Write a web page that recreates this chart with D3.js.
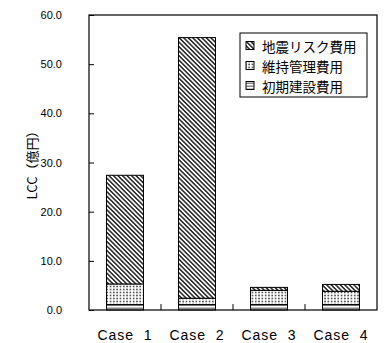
<!DOCTYPE html>
<html>
<head>
<meta charset="utf-8">
<script src="https://cdn.jsdelivr.net/npm/d3@7"></script>
<style>
  body { margin: 0; background: #fff; }
  svg { display: block; }
</style>
</head>
<body>
<div id="chart-area"></div>
<script>
// data (億円)
var cases = ["Case 1", "Case 2", "Case 3", "Case 4"];
var caseLabels = ["Case  1", "Case  2", "Case  3", "Case  4"];
var initialCost = [1.1, 1.1, 1.1, 1.1];     // 初期建設費用
var maintenanceCost = [4.2, 1.3, 2.9, 2.7]; // 維持管理費用
var seismicRisk = [22.1, 53.0, 0.6, 1.4];   // 地震リスク費用
var seriesNames = ["初期建設費用", "維持管理費用", "地震リスク費用"];
var yTicks = [0, 10, 20, 30, 40, 50, 60];

var width = 387, height = 343;
var plot = { left: 89, right: 377, top: 15, bottom: 310 };

var svg = d3.select("#chart-area")
    .append("svg")
    .attr("width", width)
    .attr("height", height);

// patterns
var defs = svg.append("defs");

var hatch = defs.append("pattern")
    .attr("id", "pat-seismic")
    .attr("patternUnits", "userSpaceOnUse")
    .attr("width", 3.2).attr("height", 3.2)
    .attr("patternTransform", "rotate(-45)");
hatch.append("rect").attr("width", 3.2).attr("height", 3.2).attr("fill", "#fff");
hatch.append("line")
    .attr("x1", 0.8).attr("y1", 0).attr("x2", 0.8).attr("y2", 3.2)
    .attr("stroke", "#222").attr("stroke-width", 1.5);

var dots = defs.append("pattern")
    .attr("id", "pat-maint")
    .attr("patternUnits", "userSpaceOnUse")
    .attr("width", 3.3).attr("height", 3.0);
dots.append("rect").attr("width", 3.3).attr("height", 3.0).attr("fill", "#fff");
dots.append("rect").attr("x", 0.8).attr("y", 0.7).attr("width", 1.7).attr("height", 1.6).attr("fill", "#555");

var lines = defs.append("pattern")
    .attr("id", "pat-initial")
    .attr("patternUnits", "userSpaceOnUse")
    .attr("width", 4).attr("height", 3);
lines.append("rect").attr("width", 4).attr("height", 3).attr("fill", "#fff");
lines.append("rect").attr("x", 0).attr("y", 1.5).attr("width", 4).attr("height", 1.5).attr("fill", "#888");

var fills = ["url(#pat-initial)", "url(#pat-maint)", "url(#pat-seismic)"];

// scales
var x = d3.scaleBand()
    .domain(cases)
    .range([plot.left, plot.right])
    .paddingInner(0.486)
    .paddingOuter(0.243);

var xOuter = d3.scaleBand()
    .domain(cases)
    .range([plot.left, plot.right]);

var y = d3.scaleLinear()
    .domain([0, 60])
    .range([plot.bottom, plot.top]);

// stacked data
var rows = cases.map(function (c, i) {
    return { name: c, initial: initialCost[i], maint: maintenanceCost[i], seismic: seismicRisk[i] };
});
var stack = d3.stack().keys(["initial", "maint", "seismic"]);
var layers = stack(rows);

// bars
var g = svg.append("g");
layers.forEach(function (layer, k) {
    g.selectAll(".seg" + k)
        .data(layer)
        .enter()
        .append("rect")
        .attr("x", function (d) { return x(d.data.name); })
        .attr("y", function (d) { return y(d[1]); })
        .attr("width", x.bandwidth())
        .attr("height", function (d) { return y(d[0]) - y(d[1]); })
        .attr("fill", fills[k])
        .attr("stroke", "#000")
        .attr("stroke-width", 1);
});

// y axis
var yAxis = d3.axisLeft(y)
    .tickValues(yTicks)
    .tickSize(-5)
    .tickPadding(27)
    .tickFormat(d3.format(".1f"));

var yAxisGroup = svg.append("g")
    .attr("transform", "translate(" + plot.left + ",0)")
    .call(yAxis);
yAxisGroup.select(".domain").remove();
yAxisGroup.selectAll("line").attr("stroke", "#000");
yAxisGroup.selectAll("text")
    .attr("font-family", "'Liberation Sans', Arial, sans-serif")
    .attr("font-size", "11px")
    .attr("fill", "#000");

// x ticks (inward, at band boundaries)
svg.selectAll(".xtick")
    .data(cases.slice(1))
    .enter()
    .append("line")
    .attr("x1", function (d) { return xOuter(d); })
    .attr("x2", function (d) { return xOuter(d); })
    .attr("y1", plot.bottom)
    .attr("y2", plot.bottom - 6)
    .attr("stroke", "#000");

// frame
svg.append("rect")
    .attr("x", plot.left).attr("y", plot.top)
    .attr("width", plot.right - plot.left).attr("height", plot.bottom - plot.top)
    .attr("fill", "none")
    .attr("stroke", "#000")
    .attr("stroke-width", 1.2);

// x labels
svg.selectAll(".xlabel")
    .data(cases)
    .enter()
    .append("text")
    .attr("x", function (d) { return x(d) + x.bandwidth() / 2; })
    .attr("y", 340)
    .attr("text-anchor", "middle")
    .attr("font-family", "'Liberation Sans', Arial, sans-serif")
    .attr("font-size", "14px")
    .attr("letter-spacing", "1px")
    .style("white-space", "pre")
    .text(function (d, i) { return caseLabels[i]; });

// y label
svg.append("text")
    .attr("transform", "translate(31,162) rotate(-90)")
    .attr("text-anchor", "middle")
    .attr("dominant-baseline", "central")
    .attr("font-family", "'Noto Sans CJK JP', 'Liberation Sans', sans-serif")
    .attr("font-size", "13px")
    .text("LCC（億円）");

// legend
var legend = svg.append("g");
legend.append("rect")
    .attr("x", 240).attr("y", 33)
    .attr("width", 127).attr("height", 64)
    .attr("fill", "#fff")
    .attr("stroke", "#000");

var legendOrder = [2, 1, 0];
legendOrder.forEach(function (k, i) {
    var cy = 45.5 + i * 20;
    legend.append("rect")
        .attr("x", 246).attr("y", cy - 4)
        .attr("width", 8).attr("height", 8)
        .attr("fill", fills[k])
        .attr("stroke", "#000");
    legend.append("text")
        .attr("x", 262).attr("y", cy)
        .attr("dominant-baseline", "central")
        .attr("font-family", "'Noto Sans CJK JP', sans-serif")
        .attr("font-size", "13.5px")
        .text(seriesNames[k]);
});
</script>
</body>
</html>
